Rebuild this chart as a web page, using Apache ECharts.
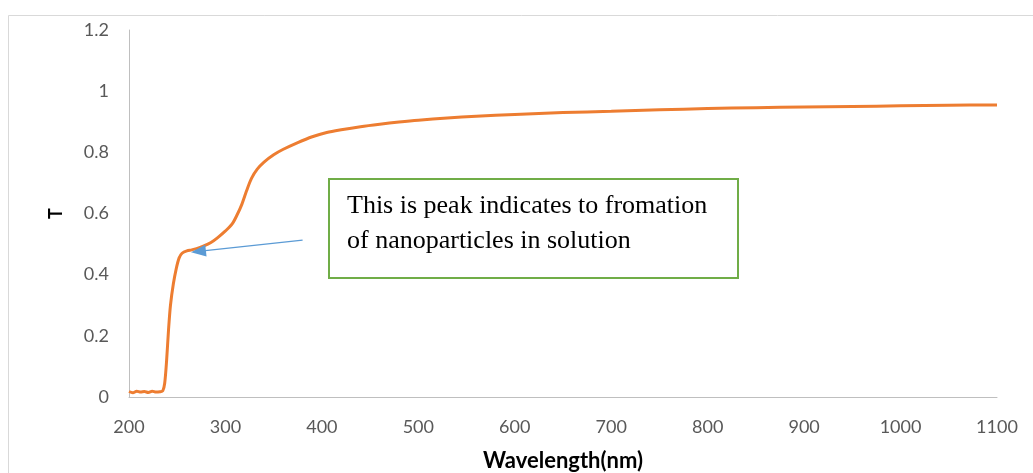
<!DOCTYPE html>
<html>
<head>
<meta charset="utf-8">
<script src="https://cdn.jsdelivr.net/npm/echarts@6/dist/echarts.min.js"></script>
<style>
  html, body { margin: 0; padding: 0; background: #fff; }
  #chart { width: 1033px; height: 473px; }
</style>
</head>
<body>
<div id="chart"></div>
<script>
// wavelength (nm) and transmittance
const wavelength = [200, 204, 208, 212, 216, 220, 224, 228, 232, 235, 237, 239, 241, 243, 246, 249, 252, 255, 260, 265, 270, 277, 285, 292, 300, 307, 312, 317, 322, 327, 333, 340, 350, 360, 375, 390, 405, 420, 440, 460, 480, 500, 530, 560, 600, 650, 700, 750, 800, 850, 900, 950, 1000, 1050, 1100];
const transmit = [0.018, 0.014, 0.019, 0.016, 0.018, 0.015, 0.019, 0.016, 0.017, 0.02, 0.045, 0.12, 0.22, 0.3, 0.37, 0.42, 0.455, 0.47, 0.478, 0.481, 0.485, 0.493, 0.505, 0.521, 0.543, 0.566, 0.595, 0.63, 0.675, 0.715, 0.745, 0.768, 0.792, 0.81, 0.832, 0.851, 0.865, 0.874, 0.884, 0.892, 0.899, 0.905, 0.912, 0.918, 0.924, 0.93, 0.934, 0.939, 0.943, 0.946, 0.948, 0.95, 0.952, 0.954, 0.955];
const xTicks = [200, 1100, 100];
const yTicks = [0, 1.2, 0.2];
const noteLines = ['This is peak indicates to fromation', 'of nanoparticles in solution'];
// arrow from the note to the shoulder, in data units
const arrowFrom = [380, 0.513];
const arrowTo = [272, 0.476];

let chart = echarts.init(document.getElementById('chart'), null, {renderer: 'canvas'});

let points = wavelength.map((w, i) => [w, transmit[i]]);

let option = {
  animation: false,
  backgroundColor: '#fff',
  grid: { left: 129, right: 36, top: 30, bottom: 76, containLabel: false, outerBoundsMode: 'none' },
  xAxis: {
    type: 'value',
    min: xTicks[0], max: xTicks[1], interval: xTicks[2],
    name: 'Wavelength(nm)',
    nameLocation: 'middle',
    nameGap: 53,
    nameTextStyle: { fontFamily: 'Lato', fontWeight: 'bold', fontSize: 22, color: '#000' },
    axisLine: { lineStyle: { color: '#bfbfbf', width: 1 } },
    axisTick: { show: false },
    splitLine: { show: false },
    axisLabel: { margin: 21, fontFamily: 'Lato', fontSize: 18, color: '#595959',
      formatter: v => String(v) }
  },
  yAxis: {
    type: 'value',
    min: yTicks[0], max: yTicks[1], interval: yTicks[2],
    name: 'T',
    nameLocation: 'middle',
    nameGap: 64,
    nameRotate: 90,
    nameTextStyle: { fontFamily: 'Lato', fontWeight: 'bold', fontSize: 18, color: '#000' },
    axisLine: { show: true, lineStyle: { color: '#bfbfbf', width: 1 } },
    axisTick: { show: false },
    splitLine: { show: false },
    axisLabel: { margin: 20, fontFamily: 'Lato', fontSize: 18, color: '#595959',
      formatter: v => String(Math.round(v * 10) / 10) }
  },
  series: [{
    type: 'line',
    data: points,
    smooth: 0.3,
    showSymbol: false,
    lineStyle: { color: '#ED7D31', width: 3 },
    markLine: {
      silent: true,
      symbol: ['none', 'triangle'],
      symbolSize: [12, 15],
      label: { show: false },
      lineStyle: { color: '#5B9BD5', width: 1.3, type: 'solid' },
      data: [[{ coord: arrowFrom }, { coord: arrowTo }]]
    }
  }],
  graphic: [
    {
      type: 'rect', z: -1, silent: true,
      shape: { x: 8.5, y: 15.5, width: 1040, height: 470 },
      style: { fill: 'none', stroke: '#d9d9d9', lineWidth: 1 }
    },
    {
      type: 'rect', z: 10,
      shape: { x: 329, y: 179, width: 409, height: 99 },
      style: { fill: '#fff', stroke: '#70AD47', lineWidth: 2 }
    },
    {
      type: 'text', z: 11, x: 347, y: 206,
      style: { text: noteLines[0], font: '26px "Liberation Serif"', fill: '#000', verticalAlign: 'middle' }
    },
    {
      type: 'text', z: 11, x: 347, y: 241,
      style: { text: noteLines[1], font: '26px "Liberation Serif"', fill: '#000', verticalAlign: 'middle' }
    }
  ]
};

chart.setOption(option);
</script>
</body>
</html>
